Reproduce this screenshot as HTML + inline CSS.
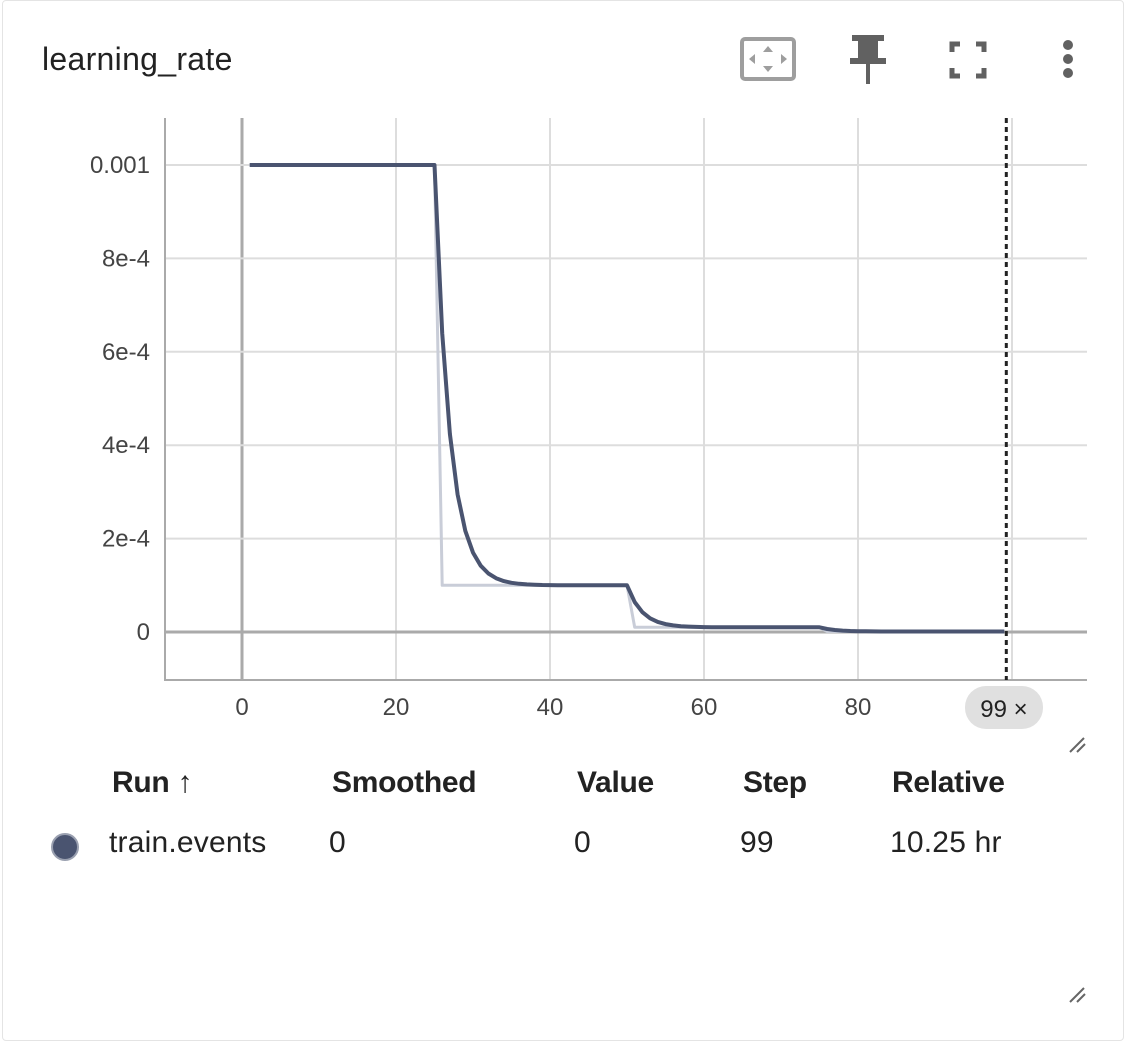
<!DOCTYPE html>
<html><head><meta charset="utf-8"><style>
html,body{margin:0;padding:0;background:#fff;}
body{width:1128px;height:1043px;position:relative;overflow:hidden;font-family:"Liberation Sans",sans-serif;}
.card{position:absolute;left:2px;top:0;width:1122px;height:1041px;border:1px solid #e4e4e4;border-radius:4px;box-sizing:border-box;}
.title{position:absolute;left:42px;top:41px;font-size:32px;color:#222;letter-spacing:0.3px;}
.th{position:absolute;top:766px;font-size:30px;font-weight:bold;color:#222;letter-spacing:-0.3px;}
.td{position:absolute;top:826px;font-size:30px;color:#222;letter-spacing:0.2px;}
</style></head><body>
<div class="card"></div>
<div class="title">learning_rate</div>
<svg width="1128" height="1043" style="position:absolute;left:0;top:0" id="svg">
 <g>
  <rect x="742" y="39" width="52" height="40" rx="3" fill="none" stroke="#9e9e9e" stroke-width="4"/>
  <path d="M768 46 l-5 6 h10z M768 72 l-5 -6 h10z M749 59 l6 -5 v10z M787 59 l-6 -5 v10z" fill="#9e9e9e"/>
 </g>
 <g fill="#616161">
  <rect x="852" y="35" width="32" height="6"/><rect x="858" y="40" width="20" height="20"/>
  <rect x="850" y="58" width="36" height="6"/><rect x="866" y="62" width="4" height="22"/>
 </g>
 <g fill="none" stroke="#616161" stroke-width="5">
  <path d="M952 52 v-8 h8 M976 44 h8 v8 M984 68 v8 h-8 M960 76 h-8 v-8"/>
 </g>
 <g fill="#616161">
  <circle cx="1068" cy="45" r="5"/><circle cx="1068" cy="59" r="5"/><circle cx="1068" cy="73" r="5"/>
 </g>
 <g id="plot"></g>
 <g>
  <rect x="965" y="686" width="78" height="43" rx="21" fill="#e0e0e0"/>
  <text x="1004" y="717" font-size="24" text-anchor="middle" fill="#222" font-family="Liberation Sans">99 ×</text>
 </g>
 <path d="M1070 752 l14 -14 M1077 752 l8 -8" stroke="#666" stroke-width="2"/>
 <path d="M1070 1002 l14 -14 M1077 1002 l8 -8" stroke="#666" stroke-width="2"/>
 <circle cx="65" cy="847" r="13" fill="#4a5470" stroke="#9aa0b0" stroke-width="2"/>
</svg>
<div class="th" style="left:112px">Run ↑</div>
<div class="th" style="left:332px">Smoothed</div>
<div class="th" style="left:577px">Value</div>
<div class="th" style="left:743px">Step</div>
<div class="th" style="left:892px">Relative</div>
<div class="td" style="left:109px">train.events</div>
<div class="td" style="left:329px">0</div>
<div class="td" style="left:574px">0</div>
<div class="td" style="left:740px">99</div>
<div class="td" style="left:890px">10.25 hr</div>
<script>
const xTicks=[0,20,40,60,80];
const yTicks=[0,2e-4,4e-4,6e-4,8e-4,1e-3];
const yTickLabels=["0","2e-4","4e-4","6e-4","8e-4","0.001"];
const rawSeg1=Array(25).fill(1e-3);
const rawSeg2=Array(25).fill(1e-4);
const rawSeg3=Array(25).fill(1e-5);
const rawSeg4=Array(24).fill(1e-6);
const rawValues=rawSeg1.concat(rawSeg2,rawSeg3,rawSeg4);
const smoothSeg2=[6.4e-4,4.24e-4,2.944e-4,2.166e-4,1.700e-4,1.420e-4,1.252e-4,1.151e-4,1.091e-4,1.054e-4,1.033e-4,1.020e-4,1.012e-4,1.007e-4,1.004e-4,1.003e-4,1.002e-4,1.001e-4,1.0e-4,1.0e-4,1.0e-4,1.0e-4,1.0e-4,1.0e-4,1.0e-4];
const smoothSeg3=[6.4e-5,4.24e-5,2.94e-5,2.17e-5,1.70e-5,1.42e-5,1.25e-5,1.15e-5,1.09e-5,1.05e-5,1.03e-5,1.02e-5,1.01e-5,1.0e-5,1.0e-5,1.0e-5,1.0e-5,1.0e-5,1.0e-5,1.0e-5,1.0e-5,1.0e-5,1.0e-5,1.0e-5,1.0e-5];
const smoothSeg4=[6.4e-6,4.2e-6,2.9e-6,2.2e-6,1.7e-6,1.4e-6,1.25e-6,1.15e-6,1.1e-6,1.05e-6,1.0e-6,1.0e-6,1.0e-6,1.0e-6,1.0e-6,1.0e-6,1.0e-6,1.0e-6,1.0e-6,1.0e-6,1.0e-6,1.0e-6,1.0e-6,1.0e-6];
const smoothValues=rawSeg1.concat(smoothSeg2,smoothSeg3,smoothSeg4);
const firstStep=1;

const L=165,R=1087,T=118,B=680;
const X=v=>242+v*7.7;
const Y=v=>632-v*467000;
const NS="http://www.w3.org/2000/svg";
const g=document.getElementById('plot');
function mk(t,a){const e=document.createElementNS(NS,t);for(const k in a)e.setAttribute(k,a[k]);g.appendChild(e);return e;}
[...xTicks,100].forEach(v=>{const e=mk('line',{x1:X(v),x2:X(v),y1:T,y2:B,stroke:v===0?'#aaa':'#ddd','stroke-width':v===0?3:2});

});
yTicks.forEach(v=>{const e=mk('line',{x1:L,x2:R,y1:Y(v),y2:Y(v),stroke:v===0?'#aaa':'#ddd','stroke-width':v===0?3:2});

});
const ax=mk('path',{d:`M${L} ${T} V${B} H${R}`,fill:'none',stroke:'#aaa','stroke-width':2});


xTicks.forEach(v=>{const e=mk('text',{x:X(v),y:715,'font-size':24,'text-anchor':'middle',fill:'#444','font-family':'Liberation Sans'});e.textContent=v;

});
yTicks.forEach((v,i)=>{const e=mk('text',{x:150,y:Y(v)+8,'font-size':24,'text-anchor':'end',fill:'#444','font-family':'Liberation Sans'});e.textContent=yTickLabels[i];

});
const pts=a=>a.map((v,i)=>X(firstStep+i).toFixed(1)+','+Y(v).toFixed(1)).join(' ');
const raw=mk('polyline',{points:pts(rawValues),fill:'none',stroke:'#c9cdd8','stroke-width':3,'stroke-linejoin':'round'});


const sm=mk('polyline',{points:pts(smoothValues),fill:'none',stroke:'#4a5470','stroke-width':4,'stroke-linejoin':'round'});


const cur=mk('line',{x1:X(99)+2,x2:X(99)+2,y1:T,y2:B,stroke:'#222','stroke-width':3,'stroke-dasharray':'5,4'});


</script>
</body></html>
